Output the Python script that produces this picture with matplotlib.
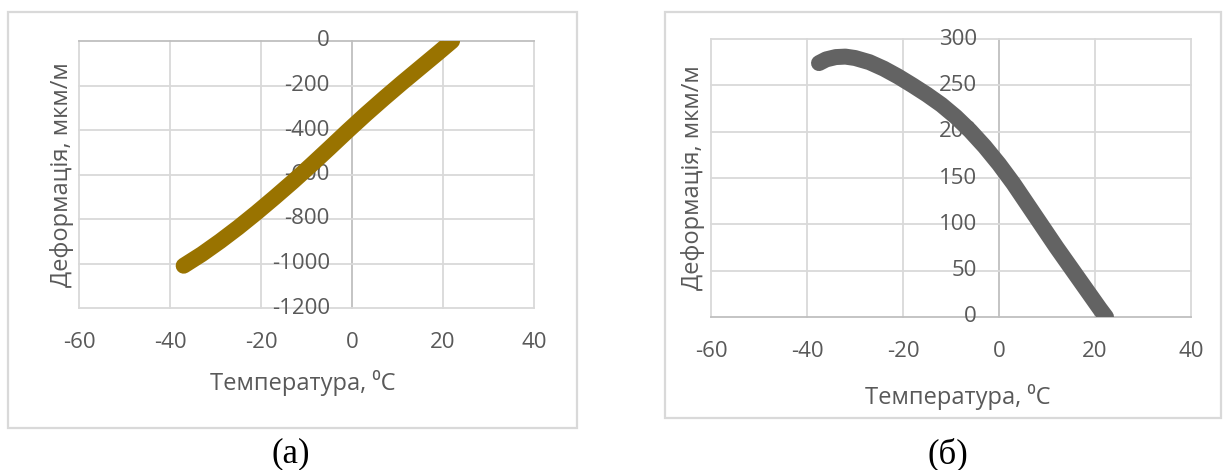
import matplotlib.pyplot as plt
from matplotlib.patches import Rectangle

# (а) deformation vs temperature
temp_a = [-37, -33, -29, -25, -21, -17, -13, -9, -5, -1, 3, 7, 11, 15, 19, 22]
strain_a = [-1010, -958, -900, -838, -772, -703, -632, -558, -482, -405,
            -330, -258, -188, -120, -52, 0]

# (б)
temp_b = [-37.5, -36, -34, -32, -30, -27, -24, -21, -18, -15, -12, -9, -6, -3,
          0, 3, 6, 9, 12, 15, 18, 21, 22.3]
strain_b = [274, 278, 280.5, 281, 279.5, 275, 268, 259.5, 250, 240, 229, 216,
            201, 184, 165, 144, 121, 98, 75, 53, 31, 9, 0]

xticks = [-60, -40, -20, 0, 20, 40]
yticks_a = [0, -200, -400, -600, -800, -1000, -1200]
yticks_b = [0, 50, 100, 150, 200, 250, 300]

xlabel = 'Температура, ⁰C'
ylabel = 'Деформація, мкм/м'

grid_col = '#d9d9d9'
axis_col = '#bfbfbf'
txt_col = '#595959'
fam = ['Open Sans', 'DejaVu Sans']

plt.rcParams['font.family'] = fam

fig = plt.figure(figsize=(12.25, 4.7), dpi=100)

# outer chart frames
fig.patches.append(Rectangle((8/1225, 1-428/470), 569/1225, 416/470, transform=fig.transFigure,
                             fill=False, edgecolor=grid_col, lw=1.6))
fig.patches.append(Rectangle((665/1225, 1-418/470), 556/1225, 406/470, transform=fig.transFigure,
                             fill=False, edgecolor=grid_col, lw=1.6))


def setup(ax, yticks, color, t, s):
    ax.set_xlim(-60, 40)
    ax.set_ylim(min(yticks), max(yticks))
    for sp in ax.spines.values():
        sp.set_visible(False)
    for x in xticks:
        c = axis_col if x == 0 else grid_col
        ax.axvline(x, color=c, lw=1.3, clip_on=False, zorder=1)
    for y in yticks:
        c = axis_col if y == 0 else grid_col
        ax.axhline(y, color=c, lw=1.3, clip_on=False, zorder=1)
    ax.set_xticks(xticks)
    ax.set_xticklabels([str(v) for v in xticks])
    ax.tick_params(axis='x', length=0, pad=17, labelsize=16, labelcolor=txt_col)
    ax.set_yticks([])
    # y tick labels sit next to the vertical axis at x=0
    for y in yticks:
        ax.annotate(str(y), xy=(0, y), xytext=(-16, 0), textcoords='offset points',
                    ha='right', va='center', fontsize=16, color=txt_col, zorder=2)
    ax.plot(t, s, color=color, lw=11.5, solid_capstyle='round', solid_joinstyle='round', zorder=3)
    ax.set_facecolor('none')


ax1 = fig.add_axes([79/1225, 1-308/470, 455/1225, 267/470])
setup(ax1, yticks_a, '#997300', temp_a, strain_a)

ax2 = fig.add_axes([711/1225, 1-317/470, 480/1225, 278/470])
setup(ax2, yticks_b, '#636363', temp_b, strain_b)

fig.text(303/1225, 1-383/470, xlabel, ha='center', va='center', fontsize=17, color=txt_col)
fig.text(958/1225, 1-397/470, xlabel, ha='center', va='center', fontsize=17, color=txt_col)
fig.text(62/1225, 1-175/470, ylabel, ha='center', va='center', rotation=90, fontsize=17, color=txt_col)
fig.text(693/1225, 1-178/470, ylabel, ha='center', va='center', rotation=90, fontsize=17, color=txt_col)

fig.text(291/1225, 1-454/470, '(а)', ha='center', va='center', fontsize=25,
         family='Liberation Serif', color='black')
fig.text(948/1225, 1-454/470, '(б)', ha='center', va='center', fontsize=25,
         family='Liberation Serif', color='black')

fig.savefig('out.png', dpi=100)
